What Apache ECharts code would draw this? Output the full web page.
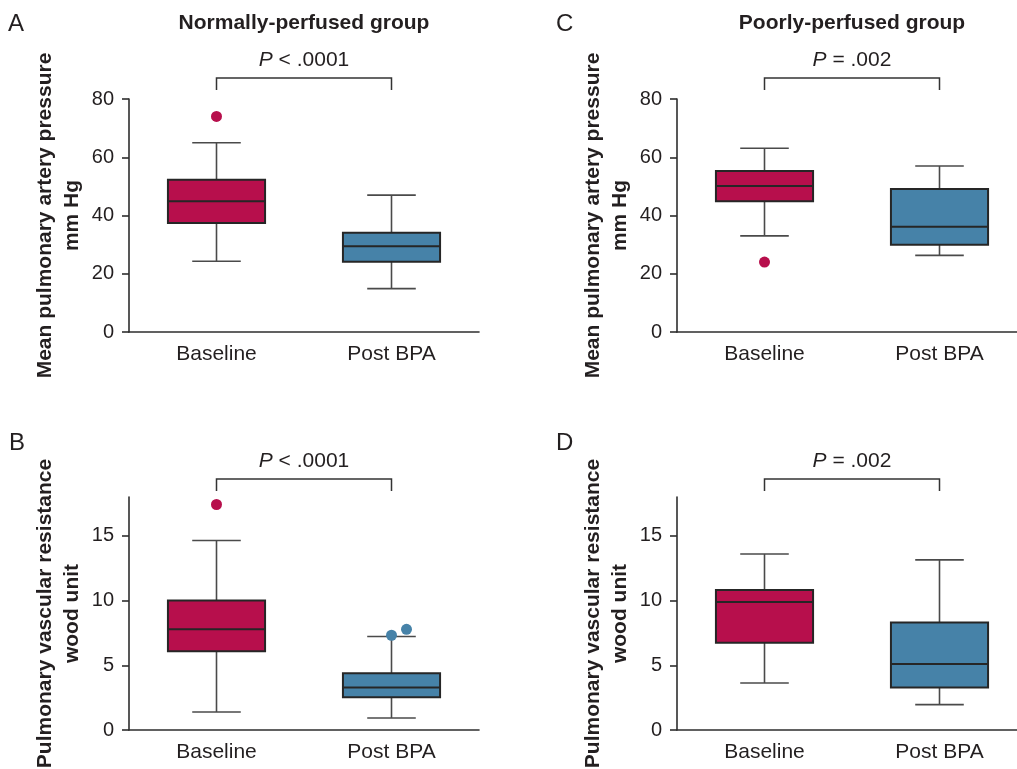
<!DOCTYPE html>
<html>
<head>
<meta charset="utf-8">
<script src="https://cdn.jsdelivr.net/npm/echarts@6/dist/echarts.min.js"></script>
<style>
html,body{margin:0;padding:0;background:#fff;}
#chart{width:1017px;height:769px;}
</style>
</head>
<body>
<div id="chart"></div>
<script>
// ---- data ----
const categories = ['Baseline', 'Post BPA'];
// [min whisker, Q1, median, Q3, max whisker]
const mpapNormal = [[24.3, 37.4, 44.9, 52.3, 65.0], [14.9, 24.1, 29.4, 34.1, 47.0]];
const mpapNormalOutliers = [[0, 74.0]];
const mpapPoor = [[33.0, 44.9, 50.1, 55.3, 63.1], [26.3, 30.0, 36.1, 49.1, 57.0]];
const mpapPoorOutliers = [[0, 24.0]];
const pvrNormal = [[1.39, 6.08, 7.78, 10.0, 14.64], [0.93, 2.53, 3.28, 4.38, 7.22]];
const pvrNormalOutliers = [[0, 17.42], [1, 7.32], [1, 7.78]];
const pvrPoor = [[3.63, 6.75, 9.89, 10.82, 13.6], [1.96, 3.28, 5.1, 8.3, 13.14]];
const pvrPoorOutliers = [];
const pValues = ['< .0001', '= .002', '< .0001', '= .002'];
const yTicksMpap = [0, 20, 40, 60, 80];
const yTicksPvr = [0, 5, 10, 15];
const yMaxMpap = 80;
const yMaxPvr = 18;
const groupTitles = ['Normally-perfused group', 'Poorly-perfused group'];
const panelLetters = ['A', 'B', 'C', 'D'];
const yNames = ['Mean pulmonary artery pressure\nmm Hg', 'Pulmonary vascular resistance\nwood unit'];

// ---- style ----
const FONT = 'Liberation Sans, Arial, Helvetica, sans-serif';
const TEXT = '#231f20';
const AXIS = '#2e2e2e';
const boxColors = ['#b70f4c', '#4682a8'];
const jitterPx = { 'B': [0, 0, 15] };

const panels = [
  { key: 'A', left: 129, top: 99, box: mpapNormal, out: mpapNormalOutliers, max: yMaxMpap, interval: 20, ticks: yTicksMpap, name: yNames[0], p: pValues[0], br: [21, 9] },
  { key: 'C', left: 677, top: 99, box: mpapPoor, out: mpapPoorOutliers, max: yMaxMpap, interval: 20, ticks: yTicksMpap, name: yNames[0], p: pValues[1], br: [21, 9] },
  { key: 'B', left: 129, top: 497, box: pvrNormal, out: pvrNormalOutliers, max: yMaxPvr, interval: 5, ticks: yTicksPvr, name: yNames[1], p: pValues[2], br: [18, 6] },
  { key: 'D', left: 677, top: 497, box: pvrPoor, out: pvrPoorOutliers, max: yMaxPvr, interval: 5, ticks: yTicksPvr, name: yNames[1], p: pValues[3], br: [18, 6] }
];

function renderBox(params, api) {
  const c = api.value(0);
  const pts = [1, 2, 3, 4, 5].map(d => api.coord([c, api.value(d)]));
  const x = pts[0][0];
  const band = api.size([1, 0])[0];
  const bw = band * 0.555;
  const cw = bw / 2;
  const lo = pts[0][1], q1 = pts[1][1], md = pts[2][1], q3 = pts[3][1], hi = pts[4][1];
  const ws = { stroke: '#4a4a4a', lineWidth: 1.6 };
  const es = { stroke: '#262626', lineWidth: 2 };
  return {
    type: 'group',
    children: [
      { type: 'line', shape: { x1: x, y1: hi, x2: x, y2: q3 }, style: ws },
      { type: 'line', shape: { x1: x, y1: q1, x2: x, y2: lo }, style: ws },
      { type: 'line', shape: { x1: x - cw / 2, y1: hi, x2: x + cw / 2, y2: hi }, style: ws },
      { type: 'line', shape: { x1: x - cw / 2, y1: lo, x2: x + cw / 2, y2: lo }, style: ws },
      { type: 'rect', shape: { x: x - bw / 2, y: q3, width: bw, height: q1 - q3 }, style: { fill: boxColors[c], stroke: es.stroke, lineWidth: es.lineWidth } },
      { type: 'line', shape: { x1: x - bw / 2, y1: md, x2: x + bw / 2, y2: md }, style: es }
    ]
  };
}

function makeBracket(panel) {
  return function (params, api) {
    const a = api.coord([0, panel.max]);
    const b = api.coord([1, panel.max]);
    const yTop = a[1] - panel.br[0];
    const yLeg = a[1] - panel.br[1];
    const ls = { stroke: '#333', lineWidth: 1.5, fill: 'none' };
    return {
      type: 'group',
      children: [
        { type: 'polyline', shape: { points: [[a[0], yLeg], [a[0], yTop], [b[0], yTop], [b[0], yLeg]] }, style: ls },
        { type: 'text', x: (a[0] + b[0]) / 2, y: yTop - 18, style: {
            text: '{i|P} ' + panel.p, align: 'center', verticalAlign: 'middle',
            fontSize: 21, fontFamily: FONT, fill: TEXT,
            rich: { i: { fontStyle: 'italic', fontSize: 21, fontFamily: FONT, fill: TEXT } }
        } }
      ]
    };
  };
}

const grids = [], xAxes = [], yAxes = [], series = [];
panels.forEach((pn, i) => {
  grids.push({ left: pn.left, top: pn.top, width: 350, height: 233, outerBoundsMode: 'none', containLabel: false });
  xAxes.push({
    type: 'category', gridIndex: i, data: categories,
    axisLine: { lineStyle: { color: AXIS, width: 1.6 } },
    axisTick: { alignWithLabel: true, length: 7, lineStyle: { color: AXIS, width: 1.6 } },
    axisLabel: { fontSize: 21, fontFamily: FONT, color: TEXT, margin: 12 },
    splitLine: { show: false }
  });
  yAxes.push({
    type: 'value', gridIndex: i, min: 0, max: pn.max, interval: pn.interval,
    name: pn.name, nameLocation: 'middle', nameRotate: 90, nameGap: 43,
    nameTextStyle: { fontSize: 21, fontWeight: 'bold', fontFamily: FONT, color: TEXT, lineHeight: 27 },
    axisLine: { show: true, lineStyle: { color: AXIS, width: 1.6 } },
    axisTick: { show: true, length: 7, customValues: pn.ticks, lineStyle: { color: AXIS, width: 1.6 } },
    axisLabel: { fontSize: 20, fontFamily: FONT, color: TEXT, margin: 15, customValues: pn.ticks },
    splitLine: { show: false }
  });
  series.push({
    type: 'custom', xAxisIndex: i, yAxisIndex: i,
    renderItem: renderBox,
    encode: { x: 0, y: [1, 2, 3, 4, 5] },
    data: pn.box.map((r, k) => [k].concat(r)),
    z: 2
  });
  const jit = jitterPx[pn.key] || [];
  series.push({
    type: 'scatter', xAxisIndex: i, yAxisIndex: i, symbolSize: 11, z: 3,
    data: pn.out.map((o, k) => ({
      value: o,
      symbolOffset: [jit[k] || 0, 0],
      itemStyle: { color: boxColors[o[0]], opacity: 1 }
    }))
  });
  series.push({
    type: 'custom', xAxisIndex: i, yAxisIndex: i, clip: false, silent: true,
    renderItem: makeBracket(pn),
    data: [[0, 0]], z: 4
  });
});

const graphics = [
  { type: 'text', x: 304, y: 23, style: { text: groupTitles[0], font: 'bold 21px ' + FONT, fill: TEXT, align: 'center', verticalAlign: 'middle' } },
  { type: 'text', x: 852, y: 23, style: { text: groupTitles[1], font: 'bold 21px ' + FONT, fill: TEXT, align: 'center', verticalAlign: 'middle' } },
  { type: 'text', x: 8, y: 24, style: { text: panelLetters[0], font: '24px ' + FONT, fill: TEXT, align: 'left', verticalAlign: 'middle' } },
  { type: 'text', x: 9, y: 443, style: { text: panelLetters[1], font: '24px ' + FONT, fill: TEXT, align: 'left', verticalAlign: 'middle' } },
  { type: 'text', x: 556, y: 24, style: { text: panelLetters[2], font: '24px ' + FONT, fill: TEXT, align: 'left', verticalAlign: 'middle' } },
  { type: 'text', x: 556, y: 443, style: { text: panelLetters[3], font: '24px ' + FONT, fill: TEXT, align: 'left', verticalAlign: 'middle' } }
];

const chart = echarts.init(document.getElementById('chart'), null, { renderer: 'canvas' });
chart.setOption({
  animation: false,
  backgroundColor: '#ffffff',
  grid: grids, xAxis: xAxes, yAxis: yAxes, series: series, graphic: graphics
});
</script>
</body>
</html>
